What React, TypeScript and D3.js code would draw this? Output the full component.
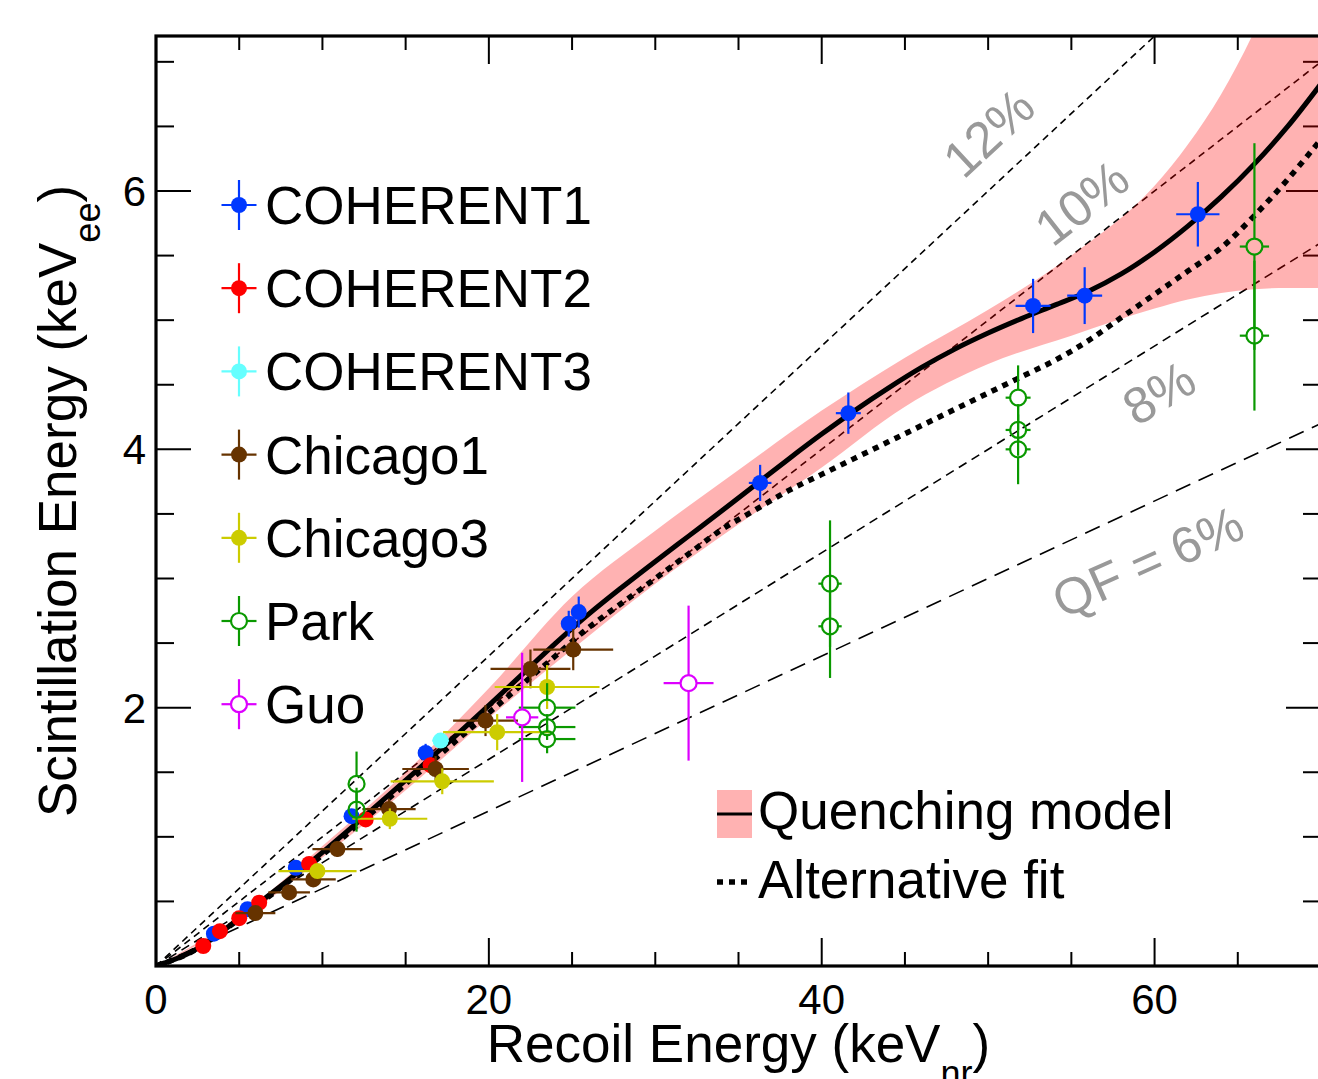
import React from 'react';
import * as d3 from 'd3';

// ---------- data ----------
const xMajorTicks = [0, 20, 40, 60];
const yMajorTicks = [2, 4, 6];

// quenching model (solid), sampled every 2 keVnr
const modelX = [0, 2, 4, 6, 8, 10, 12, 14, 16, 18, 20, 22, 24, 26, 28, 30, 32, 34, 36, 38, 40, 42, 44, 46, 48, 50, 52, 54, 56, 58, 60, 62, 64, 66, 68, 70];
const modelY = [0, 0.1, 0.27, 0.47, 0.67, 0.88, 1.1, 1.324, 1.552, 1.782, 2.018, 2.258, 2.498, 2.724, 2.932, 3.132, 3.328, 3.524, 3.724, 3.924, 4.118, 4.302, 4.474, 4.634, 4.776, 4.9, 5.012, 5.116, 5.222, 5.358, 5.528, 5.728, 5.954, 6.21, 6.5, 6.83];

// alternative fit (dotted)
const altX = [0, 2, 4, 6, 8, 10, 12, 14, 16, 18, 20, 22, 24, 26, 28, 30, 32, 34, 36, 38, 40, 42, 44, 46, 48, 50, 52, 54, 56, 58, 60, 62, 64, 66, 68, 70];
const altY = [0, 0.1, 0.27, 0.46, 0.66, 0.86, 1.08, 1.3, 1.52, 1.74, 1.96, 2.18, 2.4, 2.62, 2.81, 3.0, 3.19, 3.38, 3.53, 3.68, 3.806, 3.932, 4.058, 4.184, 4.31, 4.436, 4.562, 4.688, 4.84, 5.02, 5.2, 5.38, 5.56, 5.81, 6.09, 6.4];

// model uncertainty band
const bandX = [0, 5, 10, 15, 20, 25, 30, 35, 40, 45, 50, 55, 60, 62, 64, 66, 68, 70];
const bandHi = [0, 0.39, 0.93, 1.5, 2.15, 2.86, 3.37, 3.84, 4.3, 4.71, 5.08, 5.5, 6.04, 6.36, 6.75, 7.24, 7.85, 8.6];
const bandLo = [0, 0.35, 0.84, 1.36, 1.92, 2.45, 2.96, 3.42, 3.86, 4.33, 4.66, 4.88, 5.09, 5.16, 5.21, 5.24, 5.25, 5.25];

const qfValues = [0.12, 0.1, 0.08, 0.06];
const qfLabels = ['12%', '10%', '8%', 'QF = 6%'];

// COHERENT1
const coh1X = [3.48, 5.5, 8.4, 11.75, 16.2, 24.8, 25.4, 36.3, 41.6, 52.7, 55.8, 62.6];
const coh1Y = [0.25, 0.44, 0.76, 1.16, 1.65, 2.65, 2.74, 3.74, 4.28, 5.11, 5.19, 5.82];
const coh1EX = [0.1, 0.15, 0.2, 0.3, 0.4, 0.4, 0.4, 0.68, 0.75, 1.05, 1.05, 1.3];
const coh1EY = [0.02, 0.03, 0.04, 0.05, 0.07, 0.1, 0.12, 0.14, 0.16, 0.21, 0.22, 0.25];
// COHERENT2
const coh2X = [2.84, 3.84, 5.0, 6.2, 9.2, 12.6, 16.5];
const coh2Y = [0.155, 0.27, 0.37, 0.49, 0.79, 1.135, 1.555];
const coh2EX = [0.1, 0.1, 0.15, 0.2, 0.3, 0.4, 0.45];
const coh2EY = [0.02, 0.02, 0.03, 0.03, 0.04, 0.05, 0.06];
// COHERENT3
const coh3X = [17.1];
const coh3Y = [1.745];
const coh3EX = [0.5];
const coh3EY = [0.05];
// Chicago1
const chi1X = [5.97, 8.0, 9.45, 10.9, 14.0, 16.8, 19.8, 22.5, 25.07];
const chi1Y = [0.41, 0.57, 0.67, 0.905, 1.215, 1.525, 1.9, 2.3, 2.45];
const chi1EX = [1.2, 1.25, 1.35, 1.5, 1.6, 2.0, 1.95, 2.4, 2.4];
const chi1EY = [0.03, 0.04, 0.05, 0.06, 0.08, 0.1, 0.12, 0.15, 0.16];
// Chicago3
const chi3X = [9.7, 14.05, 17.2, 20.5, 23.5];
const chi3Y = [0.735, 1.14, 1.43, 1.81, 2.16];
const chi3EX = [2.35, 2.25, 3.1, 3.25, 3.15];
const chi3EY = [0.05, 0.08, 0.1, 0.14, 0.17];
// Park
const parkX = [12.05, 12.05, 23.5, 23.5, 23.5, 40.5, 40.5, 51.8, 51.8, 51.8, 66.0, 66.0];
const parkY = [1.41, 1.21, 2.0, 1.85, 1.757, 2.96, 2.63, 4.4, 4.15, 4.0, 5.57, 4.88];
const parkEX = [0.3, 0.3, 1.7, 1.7, 1.7, 0.7, 0.7, 0.75, 0.75, 0.75, 0.88, 0.88];
const parkEY = [0.25, 0.17, 0.19, 0.1, 0.11, 0.49, 0.4, 0.25, 0.2, 0.27, 0.8, 0.58];
// Guo
const guoX = [22.0, 32.0];
const guoY = [1.925, 2.19];
const guoEX = [0.97, 1.5];
const guoEY = [0.5, 0.6];

const legendNames = ['COHERENT1', 'COHERENT2', 'COHERENT3', 'Chicago1', 'Chicago3', 'Park', 'Guo'];

// ---------- layout ----------
const W = 1318;
const H = 1079;
const L = 156;
const R = 1321;
const T = 36;
const B = 966;
const X_MAX = 70;
const Y_MAX = 7.2;
const FONT = '"Liberation Sans", Arial, Helvetica, sans-serif';

type Series = { name: string; color: string; open: boolean; x: number[]; y: number[]; ex: number[]; ey: number[] };

const series: Series[] = [
  { name: legendNames[0], color: '#0038ff', open: false, x: coh1X, y: coh1Y, ex: coh1EX, ey: coh1EY },
  { name: legendNames[1], color: '#ff0000', open: false, x: coh2X, y: coh2Y, ex: coh2EX, ey: coh2EY },
  { name: legendNames[2], color: '#66ffff', open: false, x: coh3X, y: coh3Y, ex: coh3EX, ey: coh3EY },
  { name: legendNames[3], color: '#663300', open: false, x: chi1X, y: chi1Y, ex: chi1EX, ey: chi1EY },
  { name: legendNames[4], color: '#cccc00', open: false, x: chi3X, y: chi3Y, ex: chi3EX, ey: chi3EY },
  { name: legendNames[5], color: '#0a9900', open: true, x: parkX, y: parkY, ex: parkEX, ey: parkEY },
  { name: legendNames[6], color: '#dd00ff', open: true, x: guoX, y: guoY, ex: guoEX, ey: guoEY },
];

const xs = d3.scaleLinear().domain([0, X_MAX]).range([L, R]);
const ys = d3.scaleLinear().domain([0, Y_MAX]).range([B, T]);

const MR = 8;

function ErrPoint({ cx, cy, x0, x1, y0, y1, color, open }: any) {
  const sw = 2.2;
  if (!open) {
    return (
      <g>
        <line x1={x0} x2={x1} y1={cy} y2={cy} stroke={color} strokeWidth={sw} />
        <line x1={cx} x2={cx} y1={y0} y2={y1} stroke={color} strokeWidth={sw} />
        <circle cx={cx} cy={cy} r={MR} fill={color} />
      </g>
    );
  }
  const segs: any[] = [];
  if (cx - x0 > MR) segs.push([x0, cy, cx - MR, cy]);
  if (x1 - cx > MR) segs.push([cx + MR, cy, x1, cy]);
  if (y0 - cy > MR) segs.push([cx, cy + MR, cx, y0]);
  if (cy - y1 > MR) segs.push([cx, y1, cx, cy - MR]);
  return (
    <g>
      {segs.map((s, i) => (
        <line key={i} x1={s[0]} y1={s[1]} x2={s[2]} y2={s[3]} stroke={color} strokeWidth={sw} />
      ))}
      <circle cx={cx} cy={cy} r={MR} fill="none" stroke={color} strokeWidth={2.2} />
    </g>
  );
}

export default function App() {
  const line = d3
    .line<[number, number]>()
    .x((d) => xs(d[0]))
    .y((d) => ys(d[1]))
    .curve(d3.curveCatmullRom.alpha(0.5));
  const modelPath = line(modelX.map((x, i) => [x, modelY[i]]) as [number, number][]) || '';
  const altPath = line(altX.map((x, i) => [x, altY[i]]) as [number, number][]) || '';
  const area = d3
    .area<number>()
    .x((d, i) => xs(bandX[i]))
    .y0((d, i) => ys(bandLo[i]))
    .y1((d, i) => ys(bandHi[i]))
    .curve(d3.curveMonotoneX);
  const bandPath = area(bandX) || '';

  const xMinor = d3.range(0, X_MAX + 0.01, 5);
  const yMinor = d3.range(0, Y_MAX + 0.01, 0.5);

  const qfDash = ['7,5', '7,5', '9,6', '16,9'];
  const qfLabelPos = [
    { x: 989, y: 133, a: -43 },
    { x: 1082, y: 203, a: -38 },
    { x: 1159, y: 393, a: -31 },
    { x: 1148, y: 562, a: -24 },
  ];

  const legY0 = 205;
  const legDY = 83.2;

  return (
    <svg width={W} height={H} style={{ position: 'absolute', left: 0, top: 0, background: '#fff' }} fontFamily={FONT}>
      <defs>
        <clipPath id="plotClip">
          <rect x={L} y={T} width={R - L} height={B - T} />
        </clipPath>
      </defs>
      <rect x={0} y={0} width={W} height={H} fill="#fff" />

      {/* ticks */}
      <g stroke="#000" strokeWidth={2}>
        {xMinor.map((v) => {
          const major = xMajorTicks.includes(v);
          const len = major ? 28 : 14;
          return (
            <g key={'xt' + v}>
              <line x1={xs(v)} x2={xs(v)} y1={B} y2={B - len} />
              <line x1={xs(v)} x2={xs(v)} y1={T} y2={T + len} />
            </g>
          );
        })}
        {yMinor.map((v) => {
          const major = Math.abs(v % 2) < 1e-9 && v > 0;
          const len = major ? 35 : 18;
          return (
            <g key={'yt' + v}>
              <line x1={L} x2={L + len} y1={ys(v)} y2={ys(v)} />
              <line x1={R} x2={R - len} y1={ys(v)} y2={ys(v)} />
            </g>
          );
        })}
      </g>

      <g clipPath="url(#plotClip)">
        {qfValues.map((q, i) => (
          <line
            key={'qf' + i}
            x1={xs(0)}
            y1={ys(0)}
            x2={xs(X_MAX)}
            y2={ys(q * X_MAX)}
            stroke="#000"
            strokeWidth={1.6}
            strokeDasharray={qfDash[i]}
          />
        ))}
        <path d={bandPath} fill="#ff0000" fillOpacity={0.3} stroke="none" />
        <path d={modelPath} fill="none" stroke="#000" strokeWidth={5} />
        <path d={altPath} fill="none" stroke="#000" strokeWidth={5.5} strokeDasharray="6,6" />
      </g>

      {/* data points */}
      {series.map((s) => (
        <g key={s.name}>
          {s.x.map((x, i) => (
            <ErrPoint
              key={i}
              cx={xs(x)}
              cy={ys(s.y[i])}
              x0={xs(x - s.ex[i])}
              x1={xs(x + s.ex[i])}
              y0={ys(s.y[i] - s.ey[i])}
              y1={ys(s.y[i] + s.ey[i])}
              color={s.color}
              open={s.open}
            />
          ))}
        </g>
      ))}

      {/* frame */}
      <rect x={L} y={T} width={R - L} height={B - T} fill="none" stroke="#000" strokeWidth={3.2} />

      {/* QF labels */}
      {qfLabels.map((t, i) => (
        <text
          key={'ql' + i}
          x={qfLabelPos[i].x}
          y={qfLabelPos[i].y}
          transform={`rotate(${qfLabelPos[i].a} ${qfLabelPos[i].x} ${qfLabelPos[i].y})`}
          textAnchor="middle"
          dominantBaseline="central"
          fontSize={51}
          fill="#999999"
        >
          {t}
        </text>
      ))}

      {/* tick labels */}
      {xMajorTicks.map((v) => (
        <text key={'xl' + v} x={xs(v)} y={1014} textAnchor="middle" fontSize={42} fill="#000">
          {v}
        </text>
      ))}
      {yMajorTicks.map((v) => (
        <text key={'yl' + v} x={146} y={ys(v)} dy="0.36em" textAnchor="end" fontSize={42} fill="#000">
          {v}
        </text>
      ))}

      {/* axis titles */}
      <text x={(L + R) / 2} y={1062} textAnchor="middle" fontSize={53} fill="#000">
        Recoil Energy (keV
        <tspan fontSize={36} dy={24}>nr</tspan>
        <tspan dy={-24}>)</tspan>
      </text>
      <text
        x={76}
        y={(T + B) / 2}
        transform={`rotate(-90 76 ${(T + B) / 2})`}
        textAnchor="middle"
        fontSize={53}
        fill="#000"
      >
        Scintillation Energy (keV
        <tspan fontSize={36} dy={24}>ee</tspan>
        <tspan dy={-24}>)</tspan>
      </text>

      {/* legend 1 */}
      {series.map((s, i) => {
        const cy = legY0 + i * legDY;
        const cx = 239;
        return (
          <g key={'leg' + s.name}>
            <ErrPoint cx={cx} cy={cy} x0={cx - 17.5} x1={cx + 17.5} y0={cy + 25} y1={cy - 25} color={s.color} open={s.open} />
            <text x={265} y={cy + 19} fontSize={53} fill="#000">
              {s.name}
            </text>
          </g>
        );
      })}

      {/* legend 2 */}
      <rect x={717} y={790} width={35} height={48} fill="#ff0000" fillOpacity={0.3} />
      <line x1={717} x2={752} y1={814} y2={814} stroke="#000" strokeWidth={3} />
      <text x={758} y={829} fontSize={53} fill="#000">Quenching model</text>
      <line x1={717} x2={752} y1={882} y2={882} stroke="#000" strokeWidth={5.5} strokeDasharray="6,6" />
      <text x={758} y={898} fontSize={53} fill="#000">Alternative fit</text>
    </svg>
  );
}
